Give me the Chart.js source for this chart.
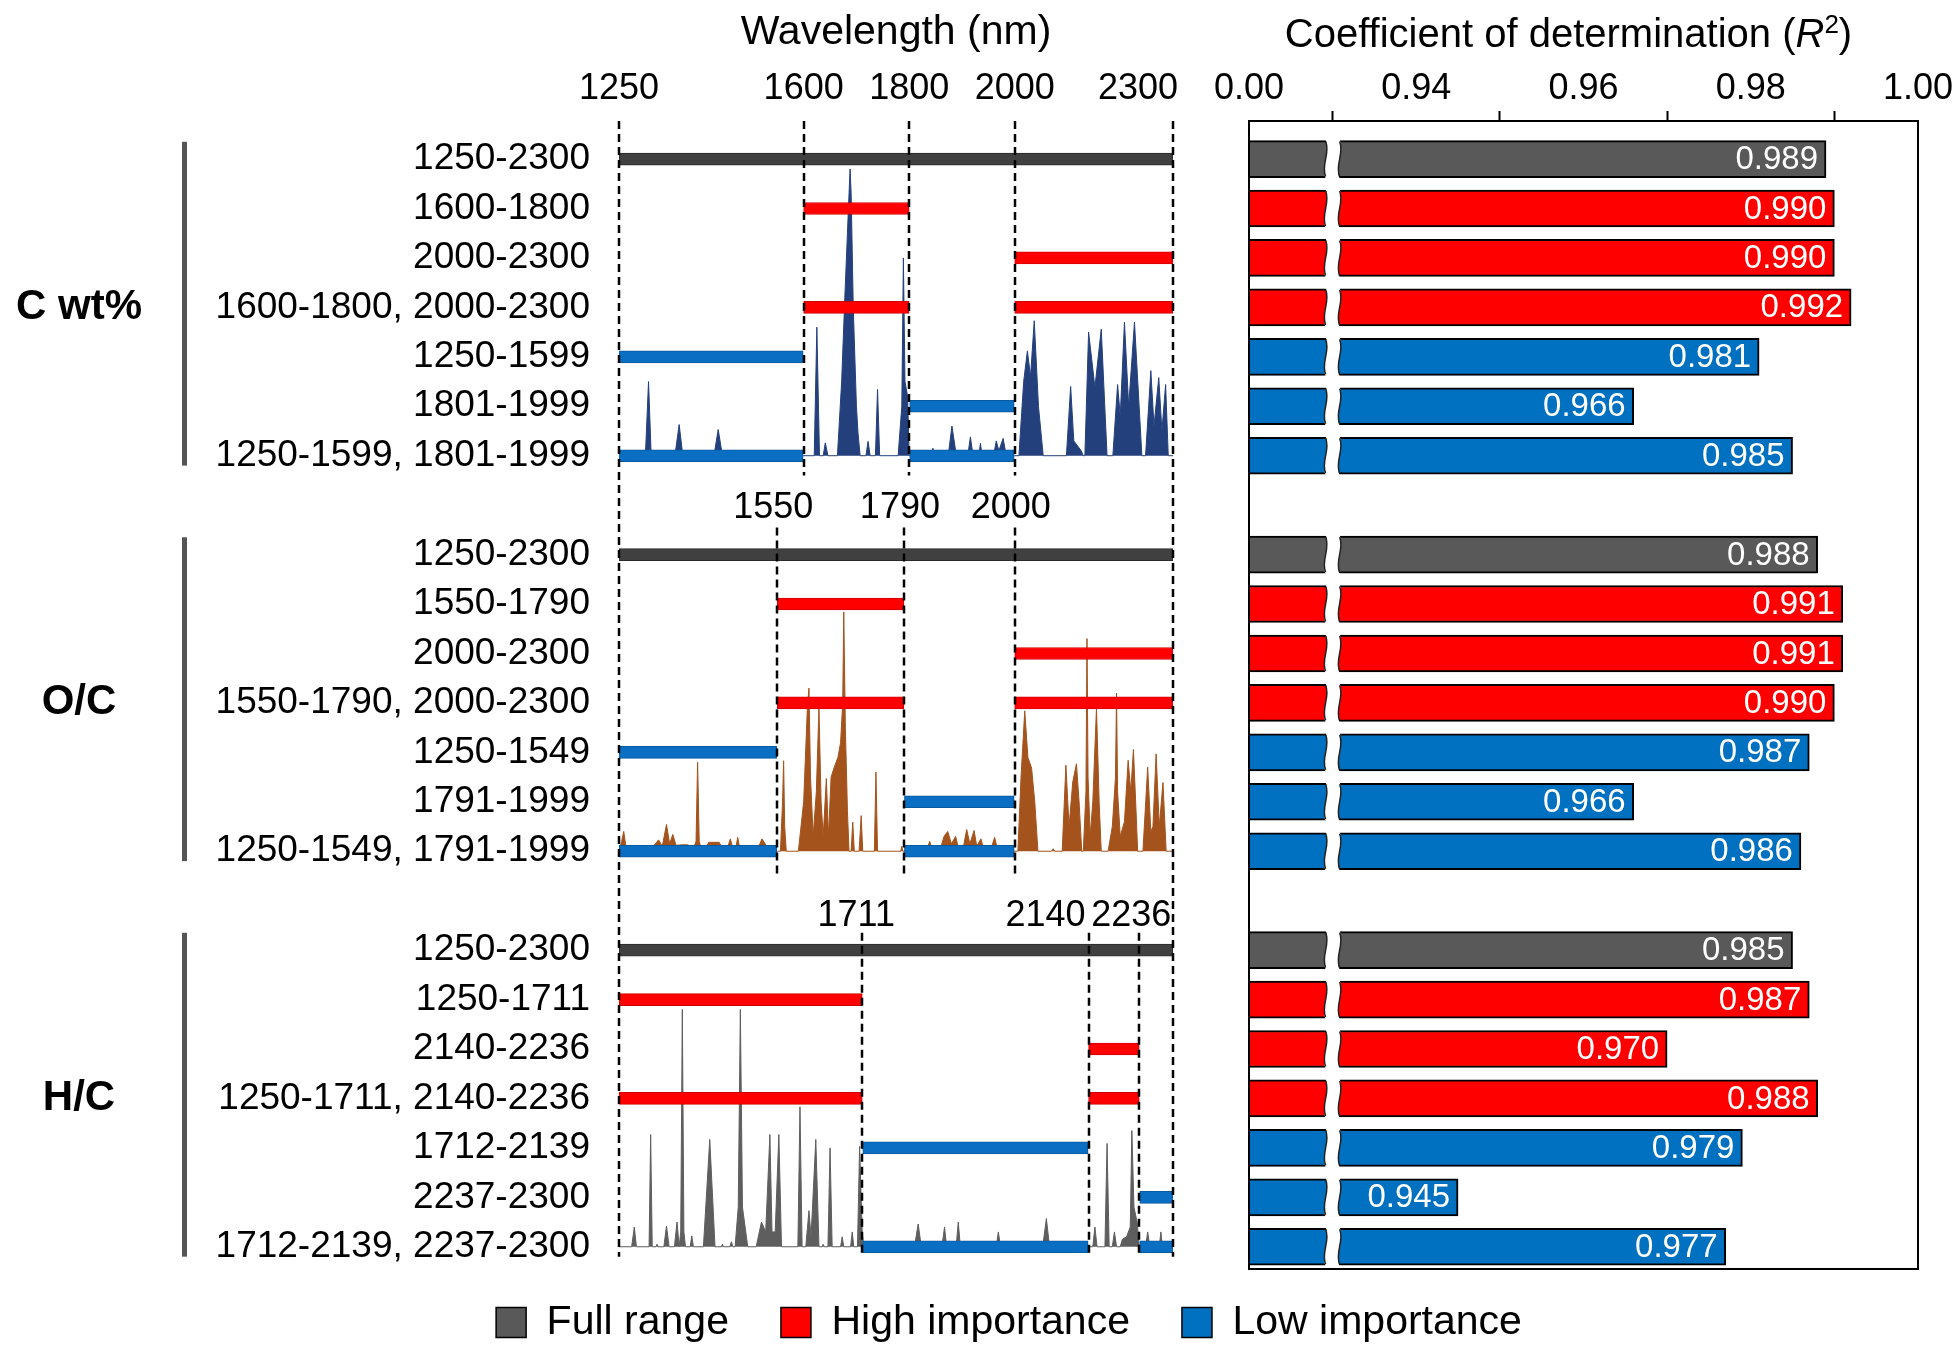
<!DOCTYPE html>
<html>
<head>
<meta charset="utf-8">
<script src="https://cdn.jsdelivr.net/npm/chart.js@4"></script>
<style>
    html, body { margin: 0; padding: 0; background: #fff; overflow: hidden; width: 1960px; height: 1360px; }
    #wrap { position: relative; width: 1960px; height: 1360px; overflow: hidden; }
    canvas { position: absolute; }
</style>
</head>
<body>
<div id="wrap">
    <canvas id="spectra-canvas" width="1270" height="1360" style="left:0;top:0"></canvas>
    <canvas id="r2-canvas" width="770" height="1360" style="left:1190px;top:0"></canvas>
    <canvas id="legend-canvas" width="1900" height="320" style="left:59px;top:1250px"></canvas>
</div>
<script>
/* ############ */
/* ### Data ### */
/* ############ */

const GROUPS = ['C wt%', 'O/C', 'H/C'];

const RANGES_C = ['1250-2300', '1600-1800', '2000-2300', '1600-1800, 2000-2300', '1250-1599', '1801-1999', '1250-1599, 1801-1999'];
const RANGES_OC = ['1250-2300', '1550-1790', '2000-2300', '1550-1790, 2000-2300', '1250-1549', '1791-1999', '1250-1549, 1791-1999'];
const RANGES_HC = ['1250-2300', '1250-1711', '2140-2236', '1250-1711, 2140-2236', '1712-2139', '2237-2300', '1712-2139, 2237-2300'];

// 0 = full range, 1 = high importance, 2 = low importance
const ROW_KIND = [0, 1, 1, 1, 2, 2, 2];
const KIND_NAMES = ['Full range', 'High importance', 'Low importance'];

const R2_C = [0.989, 0.990, 0.990, 0.992, 0.981, 0.966, 0.985];
const R2_OC = [0.988, 0.991, 0.991, 0.990, 0.987, 0.966, 0.986];
const R2_HC = [0.985, 0.987, 0.970, 0.988, 0.979, 0.945, 0.977];

const WL_TICKS = [1250, 1600, 1800, 2000, 2300];
const CUTS_OC = [1550, 1790, 2000];
const CUTS_HC = [1711, 2140, 2236];

const R2_TICKS = [0.92, 0.94, 0.96, 0.98, 1.00];
const R2_TICK_LABELS = ['0.00', '0.94', '0.96', '0.98', '1.00'];
const R2_BREAK = 0.93;

// Importance spectra: [wavelength, height in row units above the group's last row]
const SPEC_C = [
    [1250, 0], [1300, 0], [1306, 1.5], [1311, 0], [1316, 0], [1318, 0.05], [1320, 0],
    [1356, 0], [1364, 0.63], [1371, 0], [1430, 0], [1438, 0.53], [1446, 0],
    [1486, 0], [1488, 0.05], [1490, 0], [1538, 0], [1540, 0.07], [1542, 0], [1559, 0], [1561, 0.07], [1563, 0],
    [1620, 0], [1625, 2.6], [1630, 0], [1637, 0], [1641, 0.26], [1646, 0],
    [1664, 0], [1672, 1.5], [1678, 3.2], [1686, 5.3], [1688, 5.8], [1690, 5.3], [1694, 3.0], [1700, 1.0], [1703, 0.46], [1707, 0],
    [1718, 0], [1722, 0.29], [1726, 0], [1736, 0], [1740, 1.34], [1744, 0],
    [1779, 0], [1786, 1.0], [1789, 4.0], [1792, 1.5], [1797, 1.2], [1800, 0],
    [1820, 0], [1822, 0.07], [1825, 0], [1842, 0], [1845, 0.15], [1848, 0],
    [1874, 0], [1881, 0.6], [1888, 0.1], [1893, 0], [1911, 0], [1916, 0.38], [1921, 0],
    [1932, 0], [1935, 0.25], [1938, 0], [1960, 0], [1965, 0.3], [1970, 0.1], [1978, 0.35], [1984, 0],
    [2008, 0], [2017, 1.5], [2024, 2.12], [2030, 1.6], [2037, 2.73], [2045, 1.0], [2054, 0],
    [2098, 0], [2106, 1.4], [2112, 0.3], [2126, 0.1], [2130, 0],
    [2133, 0], [2140, 2.5], [2152, 1.38], [2164, 2.56], [2175, 0],
    [2186, 0], [2195, 1.44], [2200, 0.8], [2208, 2.7], [2216, 1.0], [2227, 2.7], [2241, 0],
    [2248, 0], [2258, 1.72], [2264, 0.6], [2273, 1.58], [2279, 0.5], [2286, 1.44], [2291, 0], [2300, 0]
];

const SPEC_OC = [
    [1250, 0], [1255, 0.2], [1259, 0.4], [1263, 0.1], [1268, 0],
    [1310, 0], [1315, 0.1], [1325, 0.23], [1332, 0.1], [1340, 0.54], [1346, 0.15], [1352, 0.34], [1358, 0.12],
    [1370, 0.13], [1380, 0.13], [1392, 0.08], [1396, 0.2], [1399, 1.8], [1402, 0.2], [1406, 0.05], [1414, 0.05],
    [1420, 0.18], [1432, 0.18], [1440, 0.18], [1446, 0.05], [1456, 0.08], [1461, 0.25], [1466, 0.05], [1472, 0.1],
    [1475, 0.28], [1479, 0.05], [1490, 0.05], [1500, 0.08], [1515, 0.1], [1521, 0.25], [1530, 0.1], [1545, 0.05], [1550, 0],
    [1556, 0], [1560, 1.0], [1562, 1.83], [1564, 0.5], [1567, 0],
    [1590, 0], [1600, 1.0], [1607, 2.9], [1610, 3.3], [1613, 1.5], [1618, 0.3], [1624, 1.2], [1629, 2.9], [1633, 1.0],
    [1637, 0.3], [1643, 1.47], [1647, 0.3], [1652, 1.5], [1658, 1.7], [1665, 1.9], [1670, 2.2], [1674, 3.0],
    [1676, 4.84], [1679, 2.5], [1683, 0.8], [1686, 0],
    [1690, 0], [1693, 0.59], [1696, 0], [1705, 0], [1709, 0.72], [1712, 0], [1734, 0], [1737, 1.6], [1740, 0],
    [1784, 0], [1786, 0.1], [1788, 0],
    [1790, 0], [1795, 0.05], [1805, 0.05], [1815, 0.08], [1825, 0.05], [1835, 0.08], [1839, 0.2], [1843, 0.05],
    [1860, 0.08], [1866, 0.3], [1873, 0.4], [1880, 0.15], [1888, 0.3], [1893, 0.08], [1903, 0.1], [1909, 0.44],
    [1915, 0.15], [1923, 0.42], [1928, 0.1], [1936, 0.25], [1941, 0.05], [1955, 0.05], [1962, 0.28], [1967, 0.05],
    [1980, 0.05], [1986, 0.12], [1992, 0.05], [1998, 0],
    [2006, 0], [2012, 1.5], [2019, 2.84], [2025, 1.9], [2032, 1.68], [2038, 1.0], [2044, 0],
    [2070, 0], [2073, 0.05], [2076, 0],
    [2090, 0], [2097, 1.74], [2103, 0.5], [2110, 1.4], [2117, 1.77], [2122, 1.0], [2127, 0],
    [2130, 0], [2135, 1.2], [2137, 4.3], [2139, 1.5], [2143, 0.3], [2148, 1.0], [2155, 2.9], [2160, 1.0], [2164, 0],
    [2177, 0], [2185, 0.5], [2191, 1.5], [2193, 3.2], [2195, 1.2], [2200, 0.3], [2208, 0.6], [2215, 1.84],
    [2220, 1.2], [2225, 2.06], [2230, 0.8], [2233, 0],
    [2243, 0], [2252, 1.7], [2258, 0.4], [2262, 0.5], [2268, 1.97], [2274, 0.5], [2281, 1.39], [2287, 0], [2300, 0]
];

const SPEC_HC = [
    [1250, 0], [1274, 0], [1279, 0.4], [1283, 0], [1307, 0], [1310, 2.27], [1313, 0],
    [1320, 0], [1322, 0.05], [1324, 0], [1335, 0], [1340, 0.42], [1345, 0],
    [1355, 0], [1360, 0.5], [1364, 0], [1367, 0.3], [1370, 4.8], [1373, 0.3], [1376, 0],
    [1385, 0], [1388, 0.22], [1391, 0], [1410, 0], [1422, 2.17], [1432, 0],
    [1444, 0], [1446, 0.05], [1448, 0], [1460, 0], [1463, 0.1], [1466, 0],
    [1470, 0], [1476, 0.8], [1480, 4.8], [1484, 0.8], [1494, 0],
    [1510, 0], [1520, 0.5], [1528, 0.3], [1536, 2.27], [1540, 0.3], [1546, 0.3], [1553, 2.27], [1558, 0],
    [1589, 0], [1593, 2.83], [1597, 0], [1604, 0], [1610, 0.73], [1614, 0.2], [1623, 2.17], [1629, 0],
    [1635, 0], [1637, 0.05], [1639, 0], [1646, 0], [1650, 2.0], [1654, 0],
    [1670, 0], [1673, 0.2], [1676, 0], [1689, 0], [1692, 0.3], [1695, 0],
    [1702, 0], [1706, 2.03], [1711, 0.3], [1714, 0],
    [1810, 0], [1817, 0.46], [1823, 0], [1862, 0], [1867, 0.4], [1871, 0], [1889, 0], [1893, 0.5], [1897, 0],
    [1918, 0], [1920, 0.08], [1922, 0], [1934, 0], [1936, 0.1], [1938, 0], [1965, 0], [1969, 0.3], [1973, 0],
    [2004, 0], [2006, 0.08], [2008, 0], [2053, 0], [2060, 0.57], [2066, 0],
    [2148, 0], [2152, 0.4], [2156, 0], [2171, 0], [2175, 2.09], [2179, 0], [2185, 0], [2189, 0.3], [2193, 0],
    [2200, 0], [2204, 0.15], [2212, 0.2], [2219, 0.4], [2222, 2.35], [2226, 0.8], [2232, 0.5], [2236, 0],
    [2248, 0], [2252, 0.3], [2256, 0], [2265, 0], [2268, 0.1], [2271, 0], [2274, 0], [2277, 0.3], [2280, 0],
    [2289, 0], [2291, 0.05], [2293, 0], [2300, 0]
];

/* ###################### */
/* ### Layout & style ### */
/* ###################### */

const FONT = "'Liberation Sans', Arial, sans-serif";
const GROUP_STEP = 8;          // 7 rows + 1 blank row
const Y_MIN = -0.77;
const Y_MAX = 22.45;

const SEG_COLORS = ['#404040', '#ff0000', '#0a6fc2'];
const SEG_BORDERS = ['#2a2a2a', '#d00000', '#075a9e'];
const BAR_COLORS = ['#595959', '#ff0000', '#0070c0'];
const SPEC_COLORS = ['#24407c', '#a4531c', '#5e5e5e'];

const LABEL_NUDGE = { 2140: -43, 2236: -8 };

Chart.defaults.font.family = FONT;
Chart.defaults.color = '#000';

const rangeRows = [RANGES_C, RANGES_OC, RANGES_HC];
const r2Rows = [R2_C, R2_OC, R2_HC];
const spectra = [SPEC_C, SPEC_OC, SPEC_HC];

function rowLabel(r) {
    const g = Math.floor(r / GROUP_STEP);
    const i = r % GROUP_STEP;
    return (g < rangeRows.length && i < rangeRows[g].length) ? rangeRows[g][i] : '';
}

// Wavelength segments, one dataset per kind
const segData = KIND_NAMES.map(() => []);
rangeRows.forEach((ranges, g) => {
    ranges.forEach((label, i) => {
        label.split(', ').forEach(part => {
            const [a, b] = part.split('-').map(Number);
            segData[ROW_KIND[i]].push({ x: [a, b], y: g * GROUP_STEP + i });
        });
    });
});

// R² bars, one dataset per kind
const r2Data = KIND_NAMES.map(() => []);
r2Rows.forEach((values, g) => {
    values.forEach((v, i) => {
        r2Data[ROW_KIND[i]].push({ x: v, y: g * GROUP_STEP + i });
    });
});

/* ############### */
/* ### Plugins ### */
/* ############### */

const wavelengthDecor = {
    id: 'wavelengthDecor',
    afterDatasetsDraw(chart) {
        const { ctx, chartArea, scales: { x, y } } = chart;
        const vline = (wl, r0, r1) => {
            const px = Math.round(x.getPixelForValue(wl));
            ctx.beginPath();
            ctx.moveTo(px, r0 === null ? chartArea.top : y.getPixelForValue(r0));
            ctx.lineTo(px, y.getPixelForValue(r1));
            ctx.stroke();
        };
        const last = WL_TICKS.length - 1;

        ctx.save();
        ctx.strokeStyle = '#000';
        ctx.lineWidth = 2.5;
        ctx.setLineDash([8, 5]);
        vline(WL_TICKS[0], null, 22.2);
        vline(WL_TICKS[last], null, 22.2);
        WL_TICKS.slice(1, last).forEach(wl => vline(wl, null, 6.4));
        CUTS_OC.forEach(wl => vline(wl, 7.45, 14.45));
        CUTS_HC.forEach(wl => vline(wl, 15.65, 22.2));

        ctx.setLineDash([]);
        ctx.fillStyle = '#000';
        ctx.font = `36px ${FONT}`;
        ctx.textAlign = 'center';
        ctx.textBaseline = 'middle';
        CUTS_OC.forEach(wl => ctx.fillText(String(wl), x.getPixelForValue(wl) + (LABEL_NUDGE[wl] ?? -4), y.getPixelForValue(7.05)));
        CUTS_HC.forEach(wl => ctx.fillText(String(wl), x.getPixelForValue(wl) + (LABEL_NUDGE[wl] ?? -6), y.getPixelForValue(15.32)));
        ctx.restore();
    },
    afterDraw(chart) {
        const { ctx, scales: { y } } = chart;
        ctx.save();
        ctx.font = `bold 42px ${FONT}`;
        ctx.textAlign = 'center';
        ctx.textBaseline = 'middle';
        GROUPS.forEach((name, g) => {
            const r0 = g * GROUP_STEP;
            ctx.fillStyle = '#000';
            ctx.fillText(name, 79, y.getPixelForValue(r0 + 3));
            const top = y.getPixelForValue(r0 - 0.35);
            const bottom = y.getPixelForValue(r0 + 6.2);
            ctx.fillStyle = '#555';
            ctx.fillRect(182, top, 5, bottom - top);
        });
        ctx.restore();
    }
};

const r2Decor = {
    id: 'r2Decor',
    afterDatasetsDraw(chart) {
        const { ctx, scales: { x } } = chart;
        const bx = x.getPixelForValue(R2_BREAK);
        ctx.save();
        chart.data.datasets.forEach((ds, di) => {
            chart.getDatasetMeta(di).data.forEach((bar, j) => {
                // Axis break
                const t = bar.y - bar.height / 2 - 1;
                const b = bar.y + bar.height / 2 + 1;
                const hh = b - t;
                const l = bx - 7, r = bx + 7;
                ctx.beginPath();
                ctx.moveTo(l, t);
                ctx.bezierCurveTo(l + 5, t + hh * 0.35, l - 5, t + hh * 0.65, l, b);
                ctx.lineTo(r, b);
                ctx.bezierCurveTo(r - 5, t + hh * 0.65, r + 5, t + hh * 0.35, r, t);
                ctx.closePath();
                ctx.fillStyle = '#fff';
                ctx.fill();
                ctx.strokeStyle = '#222';
                ctx.lineWidth = 1.5;
                ctx.beginPath();
                ctx.moveTo(l, t + 2);
                ctx.bezierCurveTo(l + 5, t + hh * 0.35, l - 5, t + hh * 0.65, l, b - 2);
                ctx.moveTo(r, t + 2);
                ctx.bezierCurveTo(r + 5, t + hh * 0.35, r - 5, t + hh * 0.65, r, b - 2);
                ctx.stroke();

                // Value label
                ctx.fillStyle = '#fff';
                ctx.font = `33px ${FONT}`;
                ctx.textAlign = 'right';
                ctx.textBaseline = 'middle';
                ctx.fillText(ds.data[j].x.toFixed(3), bar.x - 8, bar.y + 1);
            });
        });
        ctx.restore();
    },
    afterDraw(chart) {
        const { ctx, chartArea: area } = chart;
        ctx.save();
        // Frame
        ctx.strokeStyle = '#000';
        ctx.lineWidth = 2;
        ctx.strokeRect(area.left, area.top, area.right - area.left, area.bottom - area.top);

        // Title with italic R and superscript 2
        const parts = [
            ['Coefficient of determination (', `40px ${FONT}`, 0],
            ['R', `italic 40px ${FONT}`, 0],
            ['2', `26px ${FONT}`, -14],
            [')', `40px ${FONT}`, 0]
        ];
        let total = 0;
        parts.forEach(p => { ctx.font = p[1]; total += ctx.measureText(p[0]).width; });
        let cx = (area.left + area.right) / 2 - 15 - total / 2;
        ctx.fillStyle = '#000';
        ctx.textAlign = 'left';
        ctx.textBaseline = 'alphabetic';
        parts.forEach(p => {
            ctx.font = p[1];
            ctx.fillText(p[0], cx, 47 + p[2]);
            cx += ctx.measureText(p[0]).width;
        });
        ctx.restore();
    }
};

/* ##################### */
/* ### Spectra chart ### */
/* ##################### */

const specScales = {};
spectra.forEach((s, g) => {
    const base = g * GROUP_STEP + 6;
    specScales['ySpec' + g] = { type: 'linear', axis: 'y', display: false, min: base - Y_MAX, max: base - Y_MIN };
});

new Chart(document.getElementById('spectra-canvas'), {
    type: 'bar',
    data: {
        datasets: [
            ...spectra.map((s, g) => ({
                type: 'line',
                label: GROUPS[g] + ' importance',
                data: s.map(([x, y]) => ({ x, y })),
                xAxisID: 'x',
                yAxisID: 'ySpec' + g,
                fill: 'origin',
                backgroundColor: SPEC_COLORS[g],
                borderColor: SPEC_COLORS[g],
                borderWidth: 1,
                pointRadius: 0,
                tension: 0,
                order: 2
            })),
            ...KIND_NAMES.map((name, k) => ({
                label: name,
                data: segData[k],
                indexAxis: 'y',
                xAxisID: 'x',
                yAxisID: 'y',
                grouped: false,
                barThickness: 12,
                backgroundColor: SEG_COLORS[k],
                borderColor: SEG_BORDERS[k],
                borderWidth: 1,
                borderSkipped: false,
                order: 1
            }))
        ]
    },
    options: {
        responsive: false,
        animation: false,
        layout: { padding: { left: 0, top: 0, right: 97, bottom: 91 } },
        plugins: { legend: { display: false }, tooltip: { enabled: false } },
        scales: {
            x: {
                type: 'linear',
                position: 'top',
                min: WL_TICKS[0],
                max: WL_TICKS[WL_TICKS.length - 1],
                offset: false,
                grid: { display: false, drawTicks: false },
                border: { display: false },
                afterBuildTicks: scale => { scale.ticks = WL_TICKS.map(v => ({ value: v })); },
                afterFit: scale => { scale.height = 121; },
                ticks: {
                    autoSkip: false,
                    maxRotation: 0,
                    padding: 10,
                    font: { size: 36 },
                    color: '#000',
                    callback: (v, i) => i === WL_TICKS.length - 1 ? String(WL_TICKS[i]) + '       ' : String(WL_TICKS[i])
                },
                title: { display: true, text: 'Wavelength (nm)', font: { size: 41 }, color: '#000', padding: { top: 8, bottom: 0 } }
            },
            y: {
                type: 'linear',
                reverse: true,
                min: Y_MIN,
                max: Y_MAX,
                offset: false,
                grid: { display: false, drawTicks: false },
                border: { display: false },
                afterBuildTicks: scale => {
                    const ticks = [];
                    for (let r = 0; r <= 22; r++) ticks.push({ value: r });
                    scale.ticks = ticks;
                },
                afterFit: scale => { scale.width = 619; },
                ticks: {
                    autoSkip: false,
                    padding: 29,
                    font: { size: 37 },
                    color: '#000',
                    callback: v => rowLabel(v)
                }
            },
            ...specScales
        }
    },
    plugins: [wavelengthDecor]
});

/* ################ */
/* ### R² chart ### */
/* ################ */

new Chart(document.getElementById('r2-canvas'), {
    type: 'bar',
    data: {
        datasets: KIND_NAMES.map((name, k) => ({
            label: name,
            data: r2Data[k],
            indexAxis: 'y',
            grouped: false,
            barThickness: 37,
            backgroundColor: BAR_COLORS[k],
            borderColor: '#000',
            borderWidth: 2,
            borderSkipped: false
        }))
    },
    options: {
        responsive: false,
        animation: false,
        layout: { padding: { left: 59, top: 0, right: 42, bottom: 91 } },
        plugins: { legend: { display: false }, tooltip: { enabled: false } },
        scales: {
            x: {
                type: 'linear',
                position: 'top',
                min: R2_TICKS[0],
                max: R2_TICKS[R2_TICKS.length - 1],
                offset: false,
                grid: { display: true, drawOnChartArea: false, drawTicks: true, tickLength: 10, tickWidth: 2, tickColor: '#000', color: '#000' },
                border: { display: false },
                afterBuildTicks: scale => { scale.ticks = R2_TICKS.map(v => ({ value: v })); },
                afterFit: scale => { scale.height = 121; },
                ticks: {
                    autoSkip: false,
                    maxRotation: 0,
                    padding: 0,
                    font: { size: 36 },
                    color: '#000',
                    callback: (v, i) => R2_TICK_LABELS[i]
                }
            },
            y: {
                type: 'linear',
                reverse: true,
                min: Y_MIN,
                max: Y_MAX,
                offset: false,
                display: false
            }
        }
    },
    plugins: [r2Decor]
});

/* ############## */
/* ### Legend ### */
/* ############## */

new Chart(document.getElementById('legend-canvas'), {
    type: 'bar',
    data: {
        datasets: KIND_NAMES.map((name, k) => ({
            label: name,
            data: [],
            backgroundColor: BAR_COLORS[k],
            borderColor: '#000',
            borderWidth: 1.5
        }))
    },
    options: {
        responsive: false,
        animation: false,
        scales: { x: { display: false }, y: { display: false } },
        plugins: {
            tooltip: { enabled: false },
            legend: {
                position: 'top',
                labels: { boxWidth: 30, boxHeight: 30, padding: 52, color: '#000', font: { size: 41 } }
            }
        }
    }
});
</script>
</body>
</html>
